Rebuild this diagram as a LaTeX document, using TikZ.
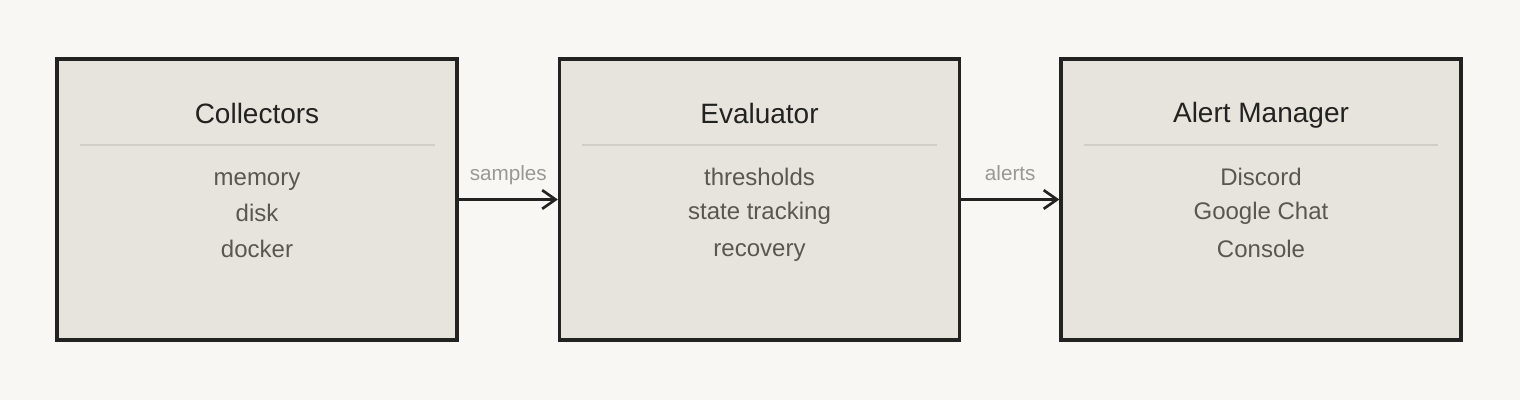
\documentclass[tikz,border=0pt]{standalone}
\usepackage{fontspec}
\setmainfont{Liberation Sans}
\usepackage{tikz}
\usetikzlibrary{arrows.meta, positioning}
\definecolor{paper}{HTML}{F8F7F4}
\definecolor{boxfill}{HTML}{E7E4DE}
\definecolor{ink}{HTML}{222220}
\definecolor{itemgray}{HTML}{5A5650}
\definecolor{labelgray}{HTML}{9A9894}
\definecolor{rulegray}{HTML}{D2CEC7}
\tikzset{
	panel/.style={draw=ink, fill=boxfill, line width=2.5pt, minimum width=300pt, minimum height=210.75pt, inner sep=0pt},
	title/.style={text=ink, font=\fontsize{21}{25}\selectfont, inner sep=0pt, text height=15.3pt, text depth=0pt},
	item/.style={text=itemgray, font=\fontsize{18}{22}\selectfont, inner sep=0pt, text height=13.1pt, text depth=0pt},
	flowlabel/.style={text=labelgray, font=\fontsize{15.5}{18}\selectfont, inner sep=0pt, text height=11.3pt, text depth=0pt},
	flow/.style={draw=ink, line width=2pt, -{Straight Barb[length=10pt, width=14pt]}}
}
\begin{document}
\begin{tikzpicture}[x=0.75pt, y=-0.75pt]
	\fill[paper] (0,0) rectangle (1520,400);
	\useasboundingbox (0,0) rectangle (1520,400);
	
	\node[panel] (col) at (257,199.5) {};
	\node[title] (col-title) at (257,113) {Collectors};
	\draw[rulegray, line width=1.2pt] (80,145) -- (435,145);
	\node[item] (col-mem) at (257,177) {memory};
	\node[item] (col-disk) at (257,213) {disk};
	\node[item] (col-dock) at (257,249) {docker};
	
	\node[panel] (eva) at (759.5,199.5) {};
	\node[title] (eva-title) at (759.5,113) {Evaluator};
	\draw[rulegray, line width=1.2pt] (582,145) -- (937,145);
	\node[item] (eva-thr) at (759.5,177) {thresholds};
	\node[item] (eva-state) at (759.5,211) {state tracking};
	\node[item] (eva-rec) at (759.5,248) {recovery};
	
	\node[panel] (alm) at (1261,199.5) {};
	\node[title] (alm-title) at (1261,112) {Alert Manager};
	\draw[rulegray, line width=1.2pt] (1084,145) -- (1438,145);
	\node[item] (alm-dis) at (1261,177) {Discord};
	\node[item] (alm-chat) at (1261,211) {Google Chat};
	\node[item] (alm-con) at (1261,249) {Console};
	
	\draw[flow] (col.east) -- (eva.west) node[flowlabel, midway, yshift=20pt] (lab-samples) {samples};
	\draw[flow] (eva.east) -- (alm.west) node[flowlabel, midway, yshift=20pt] (lab-alerts) {alerts};
\end{tikzpicture}
\end{document}
